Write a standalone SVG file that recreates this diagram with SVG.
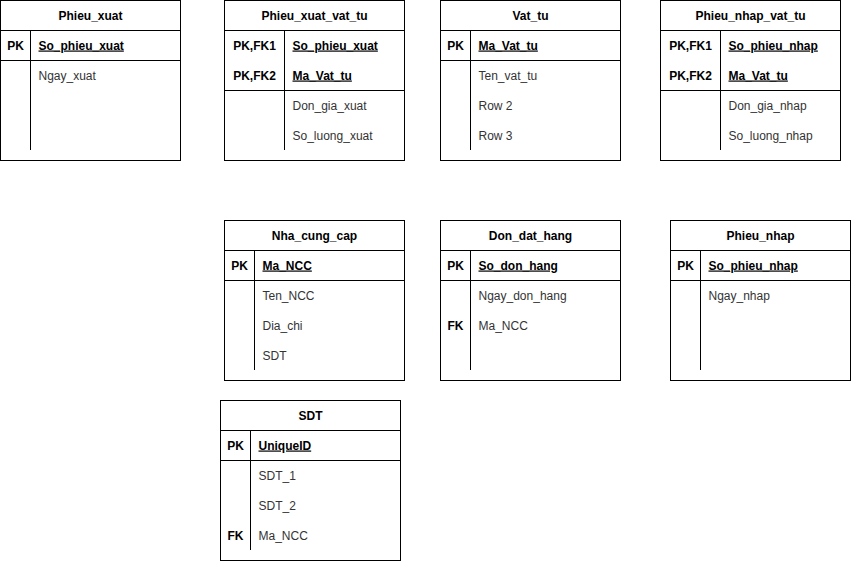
<svg xmlns="http://www.w3.org/2000/svg" width="852" height="561" viewBox="0 0 852 561">
<style>
.box{fill:#fff;stroke:#000;stroke-width:1}
.ln{stroke:#000;stroke-width:1;fill:none}
text{font-family:"Liberation Sans",Arial,Helvetica,sans-serif;font-size:12px;fill:#000}
.h{font-weight:bold;text-anchor:middle}
.k{font-weight:bold}
.ku{font-weight:bold;text-decoration:underline}
.kl{font-weight:bold;text-anchor:middle}
.a{fill:#333}
</style>
<rect width="852" height="561" fill="#fff"/>
<g id="Phieu_xuat">
<rect class="box" x="0.5" y="0.5" width="180" height="160"/>
<path class="ln" d="M0.5 30.5H180.5M0.5 60.5H180.5M30.5 30.5V150"/>
<text class="h" x="90.5" y="19.5">Phieu_xuat</text>
<text class="kl" x="15.5" y="49.5">PK</text>
<text class="ku" x="38.5" y="49.5">So_phieu_xuat</text>
<text class="a" x="38.5" y="79.5">Ngay_xuat</text>
</g>
<g id="Phieu_xuat_vat_tu">
<rect class="box" x="224.5" y="0.5" width="180" height="160"/>
<path class="ln" d="M224.5 30.5H404.5M224.5 90.5H404.5M284.5 30.5V150"/>
<text class="h" x="314.5" y="19.5">Phieu_xuat_vat_tu</text>
<text class="kl" x="254.5" y="49.5">PK,FK1</text>
<text class="ku" x="292.5" y="49.5">So_phieu_xuat</text>
<text class="kl" x="254.5" y="79.5">PK,FK2</text>
<text class="ku" x="292.5" y="79.5">Ma_Vat_tu</text>
<text class="a" x="292.5" y="109.5">Don_gia_xuat</text>
<text class="a" x="292.5" y="139.5">So_luong_xuat</text>
</g>
<g id="Vat_tu">
<rect class="box" x="440.5" y="0.5" width="180" height="160"/>
<path class="ln" d="M440.5 30.5H620.5M440.5 60.5H620.5M470.5 30.5V150"/>
<text class="h" x="530.5" y="19.5">Vat_tu</text>
<text class="kl" x="455.5" y="49.5">PK</text>
<text class="ku" x="478.5" y="49.5">Ma_Vat_tu</text>
<text class="a" x="478.5" y="79.5">Ten_vat_tu</text>
<text class="a" x="478.5" y="109.5">Row 2</text>
<text class="a" x="478.5" y="139.5">Row 3</text>
</g>
<g id="Phieu_nhap_vat_tu">
<rect class="box" x="660.5" y="0.5" width="180" height="160"/>
<path class="ln" d="M660.5 30.5H840.5M660.5 90.5H840.5M720.5 30.5V150"/>
<text class="h" x="750.5" y="19.5">Phieu_nhap_vat_tu</text>
<text class="kl" x="690.5" y="49.5">PK,FK1</text>
<text class="ku" x="728.5" y="49.5">So_phieu_nhap</text>
<text class="kl" x="690.5" y="79.5">PK,FK2</text>
<text class="ku" x="728.5" y="79.5">Ma_Vat_tu</text>
<text class="a" x="728.5" y="109.5">Don_gia_nhap</text>
<text class="a" x="728.5" y="139.5">So_luong_nhap</text>
</g>
<g id="Nha_cung_cap">
<rect class="box" x="224.5" y="220.5" width="180" height="160"/>
<path class="ln" d="M224.5 250.5H404.5M224.5 280.5H404.5M254.5 250.5V370"/>
<text class="h" x="314.5" y="239.5">Nha_cung_cap</text>
<text class="kl" x="239.5" y="269.5">PK</text>
<text class="ku" x="262.5" y="269.5">Ma_NCC</text>
<text class="a" x="262.5" y="299.5">Ten_NCC</text>
<text class="a" x="262.5" y="329.5">Dia_chi</text>
<text class="a" x="262.5" y="359.5">SDT</text>
</g>
<g id="Don_dat_hang">
<rect class="box" x="440.5" y="220.5" width="180" height="160"/>
<path class="ln" d="M440.5 250.5H620.5M440.5 280.5H620.5M470.5 250.5V370"/>
<text class="h" x="530.5" y="239.5">Don_dat_hang</text>
<text class="kl" x="455.5" y="269.5">PK</text>
<text class="ku" x="478.5" y="269.5">So_don_hang</text>
<text class="a" x="478.5" y="299.5">Ngay_don_hang</text>
<text class="kl" x="455.5" y="329.5">FK</text>
<text class="a" x="478.5" y="329.5">Ma_NCC</text>
</g>
<g id="Phieu_nhap">
<rect class="box" x="670.5" y="220.5" width="180" height="160"/>
<path class="ln" d="M670.5 250.5H850.5M670.5 280.5H850.5M700.5 250.5V370"/>
<text class="h" x="760.5" y="239.5">Phieu_nhap</text>
<text class="kl" x="685.5" y="269.5">PK</text>
<text class="ku" x="708.5" y="269.5">So_phieu_nhap</text>
<text class="a" x="708.5" y="299.5">Ngay_nhap</text>
</g>
<g id="SDT">
<rect class="box" x="220.5" y="400.5" width="180" height="160"/>
<path class="ln" d="M220.5 430.5H400.5M220.5 460.5H400.5M250.5 430.5V550"/>
<text class="h" x="310.5" y="419.5">SDT</text>
<text class="kl" x="235.5" y="449.5">PK</text>
<text class="ku" x="258.5" y="449.5">UniqueID</text>
<text class="a" x="258.5" y="479.5">SDT_1</text>
<text class="a" x="258.5" y="509.5">SDT_2</text>
<text class="kl" x="235.5" y="539.5">FK</text>
<text class="a" x="258.5" y="539.5">Ma_NCC</text>
</g>
<g id="connectors"></g>
</svg>
